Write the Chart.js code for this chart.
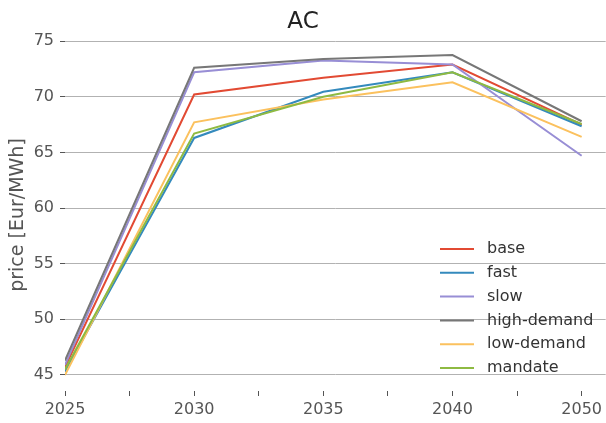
<!DOCTYPE html>
<html>
<head>
<meta charset="utf-8">
<script src="https://cdn.jsdelivr.net/npm/chart.js@4"></script>
<style>
  html, body { margin: 0; padding: 0; background: #fff; }
  #wrap { width: 606px; height: 423px; }
</style>
</head>
<body>
<div id="wrap"><canvas id="chart"></canvas></div>
<script>
const years = ["2025", "2030", "2035", "2040", "2050"];
const yTicks = [45, 50, 55, 60, 65, 70, 75];

const base = [45.7, 70.2, 71.7, 72.9, 67.5];
const fast = [45.3, 66.3, 70.45, 72.2, 67.35];
const slow = [45.9, 72.2, 73.25, 72.9, 64.7];
const highDemand = [46.3, 72.6, 73.4, 73.75, 67.8];
const lowDemand = [45.0, 67.7, 69.75, 71.3, 66.4];
const mandate = [45.5, 66.7, 70.0, 72.2, 67.55];

const FONT = "'DejaVu Sans', sans-serif";
const GRID = "#b2b2b2";
const TEXT = "#555555";

const series = [
  { label: "base", data: base, color: "#E24A33" },
  { label: "fast", data: fast, color: "#348ABD" },
  { label: "slow", data: slow, color: "#988ED5" },
  { label: "high-demand", data: highDemand, color: "#777777" },
  { label: "low-demand", data: lowDemand, color: "#FBC15E" },
  { label: "mandate", data: mandate, color: "#8EBA42" },
];

// legend drawn inside the plot, lower right, no frame
const innerLegend = {
  id: "innerLegend",
  afterDraw(chart) {
    const ctx = chart.ctx;
    ctx.save();
    ctx.font = "16px " + FONT;
    ctx.textBaseline = "middle";
    ctx.textAlign = "left";
    chart.data.datasets.forEach((ds, i) => {
      const y = 249 + i * 23.8;
      ctx.strokeStyle = ds.borderColor;
      ctx.lineWidth = 2;
      ctx.beginPath();
      ctx.moveTo(440, y);
      ctx.lineTo(474, y);
      ctx.stroke();
      ctx.fillStyle = "#333333";
      ctx.fillText(ds.label, 487, y);
    });
    ctx.restore();
  },
};

new Chart(document.getElementById("chart"), {
  type: "line",
  data: {
    datasets: series.map((s, i) => ({
      label: s.label,
      data: s.data.map((v, j) => ({ x: j, y: v })),
      borderColor: s.color,
      backgroundColor: s.color,
      borderWidth: 2,
      pointRadius: 0,
      tension: 0,
      order: series.length - i,
    })),
  },
  options: {
    responsive: true,
    maintainAspectRatio: false,
    animation: false,
    layout: { padding: 0 },
    plugins: {
      legend: { display: false },
      tooltip: { enabled: false },
      title: {
        display: true,
        text: "AC",
        color: "#222222",
        font: { family: FONT, size: 23, weight: "normal" },
        padding: { top: 8, bottom: 3.4 },
      },
    },
    scales: {
      x: {
        type: "linear",
        min: 0,
        max: 4.186,
        afterBuildTicks: (scale) => {
          const t = [];
          for (let i = 0; i <= (years.length - 1) * 2; i++) t.push({ value: i / 2 });
          scale.ticks = t;
        },
        afterFit: (scale) => { scale.height = 32; },
        border: { display: false },
        grid: {
          drawOnChartArea: false,
          drawTicks: true,
          tickLength: 5,
          tickColor: TEXT,
        },
        ticks: {
          autoSkip: false,
          maxRotation: 0,
          padding: 4,
          color: TEXT,
          font: { family: FONT, size: 16 },
          callback: (v) => (Number.isInteger(v) ? years[v] : ""),
        },
      },
      y: {
        min: 43.56,
        max: 75.19,
        afterBuildTicks: (scale) => {
          scale.ticks = yTicks.map((v) => ({ value: v }));
        },
        afterFit: (scale) => { scale.width = 65; },
        border: { display: false },
        grid: {
          color: GRID,
          lineWidth: 1,
          drawTicks: true,
          tickLength: 5,
          tickColor: TEXT,
        },
        ticks: {
          padding: 6,
          color: TEXT,
          font: { family: FONT, size: 16 },
        },
        title: {
          display: true,
          text: "price [Eur/MWh]",
          color: TEXT,
          font: { family: FONT, size: 19 },
          padding: { top: 7, bottom: 0 },
        },
      },
    },
  },
  plugins: [innerLegend],
});
</script>
</body>
</html>
